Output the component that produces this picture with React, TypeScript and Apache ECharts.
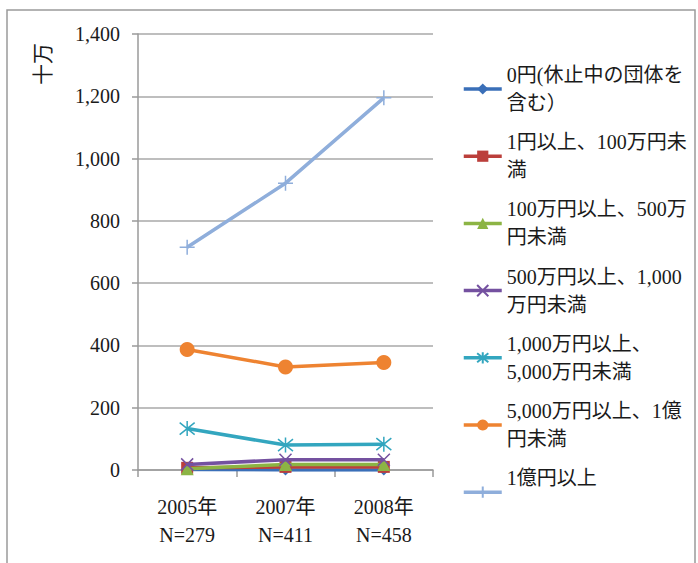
import React, { useEffect, useRef } from "react";
import * as echarts from "echarts";

const categories = ["2005年\nN=279", "2007年\nN=411", "2008年\nN=458"];
const yTicks = { min: 0, max: 1400, interval: 200 };

const seriesNames = [
  "0円(休止中の団体を\n含む）",
  "1円以上、100万円未\n満",
  "100万円以上、500万\n円未満",
  "500万円以上、1,000\n万円未満",
  "1,000万円以上、\n5,000万円未満",
  "5,000万円以上、1億\n円未満",
  "1億円以上\n ",
];

const s0 = [2, 0, 0];
const s1 = [7, 10, 10];
const s2 = [4, 18, 18];
const s3 = [18, 33, 33];
const s4 = [133, 80, 83];
const s5 = [387, 331, 345];
const s6 = [715, 921, 1195];

const seriesData = [s0, s1, s2, s3, s4, s5, s6];
const colors = ["#3A6FB8", "#BB3F3B", "#8CB444", "#7451A0", "#33A6BF", "#EE8331", "#8FAEDB"];

const X_SYM = "path://M0,0L10,10M10,0L0,10";
const STAR_SYM = "path://M1,1L9,9M9,1L1,9M5,0L5,10";
const PLUS_SYM = "path://M5,0L5,10M0,5L10,5";
const symbols = ["diamond", "rect", "triangle", X_SYM, STAR_SYM, "circle", PLUS_SYM];
const symbolSizes = [11, 12, 13, 12, 15, 15, 15];

const SERIF = "Liberation Serif, Noto Sans CJK JP, serif";

export default function App() {
  const ref = useRef<HTMLDivElement>(null);
  useEffect(() => {
    if (!ref.current) return;
    const chart = echarts.init(ref.current, null, { renderer: "svg" });
    chart.setOption({
      animation: false,
      backgroundColor: "#ffffff",
      grid: { left: 138, right: 265, top: 34, bottom: 93 },
      xAxis: {
        type: "category",
        data: categories,
        boundaryGap: true,
        axisLine: { lineStyle: { color: "#9a9a9a", width: 1.5 } },
        axisTick: { show: true, length: 7, lineStyle: { color: "#9a9a9a", width: 1.5 } },
        axisLabel: {
          color: "#1a1a1a",
          fontFamily: SERIF,
          fontSize: 20,
          lineHeight: 28,
          margin: 23,
        },
      },
      yAxis: {
        type: "value",
        min: yTicks.min,
        max: yTicks.max,
        interval: yTicks.interval,
        axisLine: { show: true, lineStyle: { color: "#9a9a9a", width: 1.5 } },
        axisTick: { show: true, length: 6, lineStyle: { color: "#9a9a9a", width: 1.5 } },
        splitLine: { lineStyle: { color: "#a8a8a8", width: 1.5 } },
        axisLabel: {
          color: "#1a1a1a",
          fontFamily: SERIF,
          fontSize: 20,
          margin: 18,
          formatter: (v: number) => v.toLocaleString("en-US"),
        },
      },
      legend: {
        orient: "vertical",
        left: 462,
        top: 47,
        padding: 0,
        itemWidth: 38,
        itemHeight: 14,
        itemGap: -16.8,
        data: seriesNames,
        lineStyle: { width: 3.5 },
        textStyle: {
          color: "#1a1a1a",
          fontFamily: SERIF,
          fontSize: 20,
          lineHeight: 28,
          padding: [28, 0, 0, 0],
        },
      },
      graphic: [
        {
          type: "rect",
          shape: { x: 7, y: 10, width: 688, height: 600 },
          style: { fill: "none", stroke: "#9a9a9a", lineWidth: 1.5 },
          silent: true,
          z: 100,
        },
        {
          type: "text",
          x: 41,
          y: 64,
          rotation: Math.PI / 2,
          style: {
            text: "十万",
            fontFamily: "Noto Sans CJK JP, sans-serif",
            fontSize: 21,
            fill: "#1a1a1a",
            align: "center",
            verticalAlign: "middle",
          },
        },
      ],
      series: seriesData.map((d, i) => ({
        name: seriesNames[i],
        type: "line",
        data: d,
        symbol: symbols[i],
        symbolSize: symbolSizes[i],
        showSymbol: true,
        z: 2 + i,
        lineStyle: { color: colors[i], width: 3.5 },
        itemStyle: {
          color: colors[i],
          borderColor: colors[i],
          borderWidth: i === 3 || i === 4 || i === 6 ? 1.5 : 0,
        },
      })),
    });
    return () => chart.dispose();
  }, []);
  return (
    <div
      ref={ref}
      style={{ position: "fixed", left: 0, top: 0, width: 698, height: 563 }}
    />
  );
}
